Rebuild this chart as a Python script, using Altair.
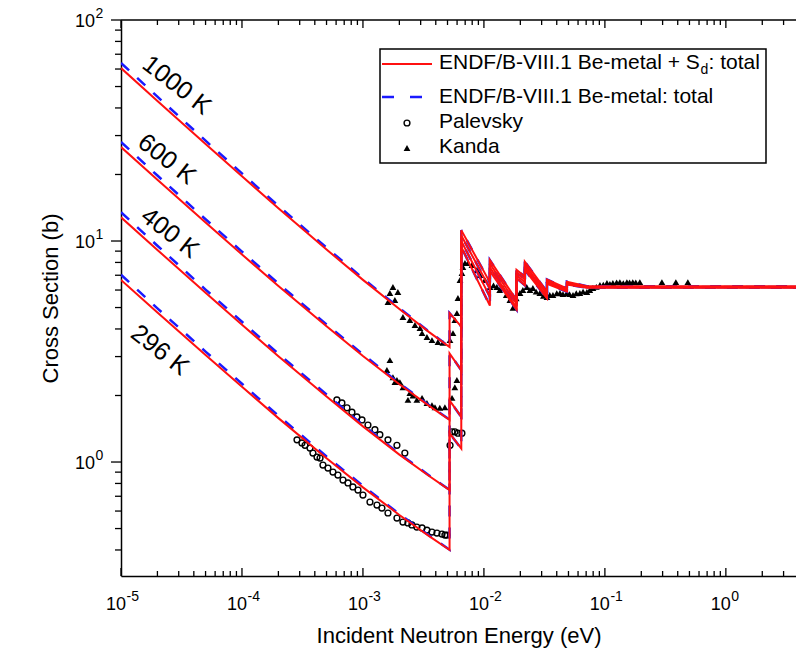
import altair as alt
import pandas as pd

FONT = "Liberation Sans, Arial, sans-serif"

# ---- evaluated curves: low-energy part (below first Bragg edge) ----
E_low = [1e-5, 2e-5, 5e-5, 1e-4, 2e-4, 5e-4, 1e-3, 2e-3, 3.5e-3, 5.2e-3]
red_1000_low = [60.6, 43.05, 27.48, 19.63, 14.08, 9.15, 6.67, 4.92, 3.88, 3.31]
red_600_low = [26.6, 18.93, 12.12, 8.69, 6.26, 4.11, 3.02, 2.25, 1.80, 1.55]
red_400_low = [12.8, 9.11, 5.83, 4.18, 3.01, 1.98, 1.45, 1.08, 0.867, 0.746]
red_296_low = [6.67, 4.75, 3.05, 2.19, 1.58, 1.04, 0.768, 0.576, 0.463, 0.40]
blue_1000_low = [63.9, 44.99, 28.44, 20.22, 14.43, 9.33, 6.78, 4.97, 3.90, 3.32]
blue_600_low = [28.06, 19.78, 12.54, 8.95, 6.42, 4.19, 3.07, 2.27, 1.81, 1.555]
blue_400_low = [13.5, 9.52, 6.03, 4.31, 3.09, 2.02, 1.47, 1.09, 0.872, 0.748]
blue_296_low = [7.04, 4.96, 3.16, 2.26, 1.62, 1.06, 0.78, 0.582, 0.466, 0.401]

# ---- Bragg-edge region and above ----
E_high = [5.2e-3, 6.5e-3, 6.5e-3, 1.12e-2, 1.12e-2, 1.86e-2, 1.86e-2, 2.18e-2,
          2.18e-2, 3.32e-2, 3.32e-2, 4.85e-2, 4.85e-2, 7.1e-2, 5.0]
high_1000 = [4.72, 4.1, 11.2, 6.5, 8.2, 5.4, 7.4, 6.9, 8.05, 5.9, 6.7, 6.1, 6.55, 6.25, 6.25]
high_600 = [3.1, 2.6, 10.6, 6.1, 7.9, 5.2, 7.2, 6.7, 7.8, 5.75, 6.6, 6.0, 6.45, 6.2, 6.2]
high_400 = [1.9, 1.6, 10.0, 5.6, 7.6, 5.0, 7.0, 6.5, 7.6, 5.6, 6.5, 5.95, 6.4, 6.18, 6.18]
high_296 = [1.35, 1.15, 9.4, 5.1, 7.3, 4.9, 6.8, 6.3, 7.4, 5.5, 6.4, 5.9, 6.35, 6.15, 6.15]

# ---- measurements ----
kanda_E = [1.61e-3, 1.67e-3, 1.77e-3, 1.836e-3, 1.945e-3, 2.14e-3, 2.44e-3, 2.69e-3, 2.96e-3,
           3.08e-3, 3.38e-3, 3.72e-3, 4.17e-3, 4.58e-3, 5.24e-3, 5.55e-3, 5.75e-3, 5.98e-3,
           6.10e-3, 6.34e-3, 6.58e-3, 6.70e-3, 6.97e-3, 7.38e-3, 7.96e-3, 8.75e-3, 9.27e-3,
           1.019e-2, 1.122e-2, 1.2e-2, 1.279e-2, 1.35e-2, 1.435e-2, 1.53e-2, 1.64e-2, 1.738e-2,
           1.85e-2, 1.986e-2, 2.1e-2, 2.26e-2, 2.4e-2, 2.54e-2, 2.7e-2, 2.9e-2, 3.1e-2, 3.32e-2,
           3.5e-2, 3.72e-2, 4.0e-2, 4.25e-2, 4.5e-2, 4.85e-2, 5.1e-2, 5.45e-2, 5.8e-2, 6.21e-2,
           6.6e-2, 7.1e-2, 7.5e-2, 7.96e-2, 8.5e-2, 9.1e-2, 9.7e-2, 0.104, 0.11, 0.1164, 0.125,
           0.133, 0.142, 0.152, 0.16, 0.17, 0.18, 0.1945, 0.296, 0.386, 0.485,
           1.578e-3, 1.67e-3, 1.77e-3, 1.836e-3, 1.91e-3, 2.02e-3, 2.14e-3, 2.355e-3, 2.44e-3,
           2.59e-3, 2.79e-3, 3.08e-3, 3.38e-3, 3.72e-3, 3.94e-3, 4.32e-3, 4.76e-3, 5.45e-3,
           5.75e-3, 5.98e-3]
kanda_sigma = [5.30, 5.82, 6.19, 5.41, 5.88, 4.53, 4.39, 4.17, 4.04,
               3.83, 3.68, 3.56, 3.49, 3.46, 3.56, 3.83, 4.39, 4.72,
               5.52, 6.66, 7.17, 7.63, 7.95, 7.95, 7.79, 7.39, 7.02,
               6.66, 6.19, 6.3, 6.19, 6.0, 6.13, 5.7, 5.41, 4.98,
               5.5, 5.82, 6.0, 6.19, 6.0, 6.13, 5.9, 5.82, 5.65, 5.58,
               5.7, 5.7, 5.8, 5.82, 5.75, 5.82, 5.75, 5.7, 5.8, 5.82,
               5.9, 5.88, 6.0, 6.13, 6.2, 6.32, 6.35, 6.46, 6.4, 6.46, 6.5,
               6.52, 6.45, 6.52, 6.5, 6.52, 6.5, 6.52, 6.52, 6.52, 6.52,
               2.61, 2.89, 2.42, 2.30, 2.35, 2.30, 2.18, 1.91, 2.05,
               2.0, 1.91, 1.95, 1.85, 1.81, 1.77, 1.76, 1.77, 1.95,
               2.18, 2.35]

pal_E = [6.09e-4, 6.70e-4, 7.38e-4, 8.11e-4, 8.91e-4, 9.82e-4, 1.10e-3, 1.256e-3, 1.38e-3,
         1.61e-3, 1.91e-3, 2.22e-3,
         2.85e-4, 3.13e-4, 3.32e-4, 3.65e-4, 3.86e-4, 4.17e-4, 4.42e-4, 4.67e-4, 5.14e-4,
         5.65e-4, 6.21e-4, 6.84e-4, 7.52e-4, 8.26e-4, 9.10e-4, 1.0e-3, 1.143e-3, 1.306e-3,
         1.435e-3, 1.61e-3, 1.91e-3, 2.14e-3, 2.355e-3, 2.54e-3, 2.79e-3, 3.08e-3, 3.38e-3,
         3.72e-3, 4.09e-3, 4.50e-3, 4.76e-3, 4.94e-3,
         5.25e-3, 5.45e-3, 5.75e-3, 6.10e-3, 6.58e-3]
pal_sigma = [1.91, 1.85, 1.76, 1.68, 1.60, 1.55, 1.47, 1.40, 1.33,
             1.26, 1.19, 1.098,
             1.26, 1.22, 1.19, 1.157, 1.098, 1.053, 1.042, 0.969, 0.939,
             0.901, 0.873, 0.829, 0.804, 0.771, 0.747, 0.709, 0.659, 0.639,
             0.619, 0.588, 0.558, 0.535, 0.530, 0.519, 0.508, 0.503, 0.492,
             0.482, 0.477, 0.472, 0.467, 0.467,
             1.19, 1.37, 1.37, 1.35, 1.35]

temp_labels = ["1000 K", "600 K", "400 K", "296 K"]
temp_label_E = [2.90e-5, 2.40e-5, 2.54e-5, 2.10e-5]
temp_label_sigma = [50.8, 23.5, 10.9, 3.21]

# ---- axis ticks and tick labels ----
x_major = [1e-5, 1e-4, 1e-3, 1e-2, 1e-1, 1.0]
x_exps = ["-5", "-4", "-3", "-2", "-1", "0"]
x_minor = [m * 10.0 ** k for k in range(-5, 1) for m in range(2, 10) if m * 10.0 ** k < 3.8]
y_major = [1.0, 10.0, 100.0]
y_exps = ["0", "1", "2"]
y_minor = [m * 10.0 ** k for k in range(-1, 2) for m in range(2, 10) if 0.31 < m * 10.0 ** k < 100]

W, H = 675, 556

# ---- build line table ----
curves = [
    ("red", "1000", red_1000_low, high_1000), ("red", "600", red_600_low, high_600),
    ("red", "400", red_400_low, high_400), ("red", "296", red_296_low, high_296),
    ("blue", "1000", blue_1000_low, high_1000), ("blue", "600", blue_600_low, high_600),
    ("blue", "400", blue_400_low, high_400), ("blue", "296", blue_296_low, high_296),
]
rows = []
for lib, t, low, high in curves:
    for i, (e, s) in enumerate(zip(E_low + E_high, low + high)):
        rows.append({"E": e, "sigma": s, "curve": f"{lib}-{t}", "lib": lib, "seq": i})
lines_df = pd.DataFrame(rows)

xaxis = alt.Axis(values=x_major, labels=False, ticks=False, tickSize=0, grid=False,
                 domainColor="black", domainWidth=1.5,
                 title="Incident Neutron Energy (eV)", titleFont=FONT, titleFontSize=22,
                 titleFontWeight="normal", titleColor="black", titlePadding=49)
yaxis = alt.Axis(values=y_major, labels=False, ticks=False, tickSize=0, grid=False,
                 domainColor="black", domainWidth=1.5,
                 title="Cross Section (b)", titleFont=FONT, titleFontSize=22,
                 titleFontWeight="normal", titleColor="black", titlePadding=59)
xscale = alt.Scale(type="log", domain=[1e-5, 3.8], nice=False)
yscale = alt.Scale(type="log", domain=[0.305, 100], nice=False)
X = alt.X("E:Q", scale=xscale, axis=xaxis)
Y = alt.Y("sigma:Q", scale=yscale, axis=yaxis)

kanda = alt.Chart(pd.DataFrame({"E": kanda_E, "sigma": kanda_sigma})).mark_point(
    shape="triangle-up", filled=True, color="black", size=46, opacity=1, clip=True
).encode(x=X, y=Y)
pal = alt.Chart(pd.DataFrame({"E": pal_E, "sigma": pal_sigma})).mark_point(
    shape="circle", filled=False, color="black", size=34, strokeWidth=1.4, opacity=1, clip=True
).encode(x=X, y=Y)

blue = alt.Chart(lines_df[lines_df.lib == "blue"]).mark_line(
    color="#1a1aff", strokeWidth=2.5, strokeDash=[11, 11], clip=True
).encode(x=X, y=Y, detail="curve:N", order="seq:Q")
red = alt.Chart(lines_df[lines_df.lib == "red"]).mark_line(
    color="#ff1010", strokeWidth=2, clip=True
).encode(x=X, y=Y, detail="curve:N", order="seq:Q")

labels = alt.Chart(pd.DataFrame({"E": temp_label_E, "sigma": temp_label_sigma,
                                 "label": temp_labels})).mark_text(
    angle=38, fontSize=25, font=FONT, color="black", align="center", baseline="middle"
).encode(x=X, y=Y, text="label:N")

# ---- ticks (x inward, y outward) ----
def xticks(vals, length):
    df = pd.DataFrame({"E": vals})
    bot = alt.Chart(df).mark_rule(color="black", strokeWidth=1.3).encode(
        x=X, y=alt.value(H), y2=alt.value(H - length))
    top = alt.Chart(df).mark_rule(color="black", strokeWidth=1.3).encode(
        x=X, y=alt.value(0), y2=alt.value(length))
    return bot + top

def yticks(vals, length):
    df = pd.DataFrame({"sigma": vals})
    return alt.Chart(df).mark_rule(color="black", strokeWidth=1.3).encode(
        y=Y, x=alt.value(-length), x2=alt.value(0))

# ---- tick labels 10^n with raised exponent ----
xl_df = pd.DataFrame({"E": x_major, "exp": x_exps})
x_base = alt.Chart(xl_df).mark_text(text="10", font=FONT, fontSize=18, color="black",
                                    align="right", baseline="middle", dx=5).encode(
    x=X, y=alt.value(H + 29))
x_sup = alt.Chart(xl_df).mark_text(font=FONT, fontSize=14, color="black",
                                   align="left", baseline="middle", dx=5.5).encode(
    x=X, y=alt.value(H + 21), text="exp:N")
yl_df = pd.DataFrame({"sigma": y_major, "exp": y_exps})
y_base = alt.Chart(yl_df).mark_text(text="10", font=FONT, fontSize=18, color="black",
                                    align="right", baseline="middle", dy=2).encode(
    x=alt.value(-26), y=Y)
y_sup = alt.Chart(yl_df).mark_text(font=FONT, fontSize=14, color="black",
                                   align="left", baseline="middle", dy=-6).encode(
    x=alt.value(-25.5), y=Y, text="exp:N")

one = pd.DataFrame({"a": [0]})
top_border = alt.Chart(one).mark_rule(color="black", strokeWidth=1.5).encode(
    x=alt.value(0), x2=alt.value(W), y=alt.value(0))

# ---- legend ----
LX0, LX1, LY0, LY1 = 259, 645, 29, 143
leg_box = alt.Chart(one).mark_rect(fill="white", stroke="black", strokeWidth=1.5).encode(
    x=alt.value(LX0), x2=alt.value(LX1), y=alt.value(LY0), y2=alt.value(LY1))
leg_red = alt.Chart(one).mark_rule(color="#ff1010", strokeWidth=2).encode(
    x=alt.value(261), x2=alt.value(311), y=alt.value(44))
leg_blue = alt.Chart(one).mark_rule(color="#1a1aff", strokeWidth=2.5, strokeDash=[12, 16]).encode(
    x=alt.value(261), x2=alt.value(302), y=alt.value(77))
leg_circ = alt.Chart(one).mark_point(shape="circle", filled=False, color="black", size=34,
                                     strokeWidth=1.4, opacity=1).encode(
    x=alt.value(286), y=alt.value(103))
leg_tri = alt.Chart(one).mark_point(shape="triangle-up", filled=True, color="black", size=46,
                                    opacity=1).encode(
    x=alt.value(286), y=alt.value(128))

def ltext(txt, x, y, size=21, align="left"):
    return alt.Chart(one).mark_text(text=txt, font=FONT, fontSize=size, color="black",
                                    align=align, baseline="middle").encode(
        x=alt.value(x), y=alt.value(y))

leg_texts = (ltext("ENDF/B-VIII.1 Be-metal + S", 318, 43)
             + ltext("d", 579.5, 50, size=14) + ltext(": total", 587.5, 43)
             + ltext("ENDF/B-VIII.1 Be-metal: total", 318, 77)
             + ltext("Palevsky", 318, 102) + ltext("Kanda", 318, 127))

chart = alt.layer(
    kanda, pal, blue, red, labels,
    xticks(x_major, 8), xticks(x_minor, 5), yticks(y_major, 10), yticks(y_minor, 6),
    x_base, x_sup, y_base, y_sup,
    top_border, leg_box, leg_red, leg_blue, leg_circ, leg_tri, leg_texts
).properties(
    width=W, height=H,
    autosize=alt.AutoSizeParams(type="none"),
    padding={"left": 121, "top": 20, "right": 0, "bottom": 83},
).configure_view(stroke=None)

chart.save("out.html", embed_options={"renderer": "svg", "actions": False})
